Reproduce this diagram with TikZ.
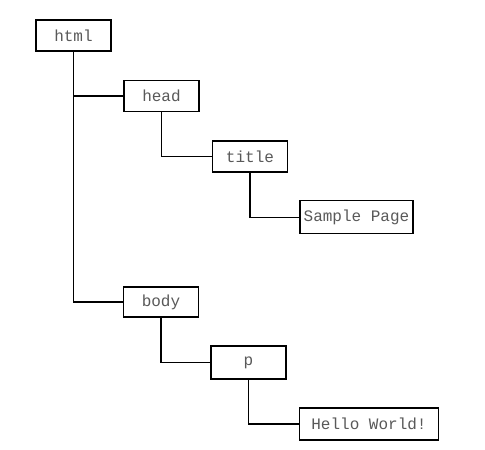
\documentclass[tikz,border=0pt]{standalone}
\usepackage{fontspec}
\setmonofont{Liberation Mono}
\begin{document}
\begin{tikzpicture}[x=1pt,y=-1pt,
  tag/.style={draw=black, line width=1.2pt, fill=white, inner sep=0pt,
    minimum height=31pt, font=\ttfamily\fontsize{16}{18}\selectfont, text=black!65},
  link/.style={draw=black, line width=1.2pt}]
\useasboundingbox (0,0) rectangle (485,450);
\node[tag, minimum width=75pt] (html) at (73.5,35.5) {html};
\node[tag, minimum width=75pt] (head) at (161.5,96) {head};
\node[tag, minimum width=75pt] (title) at (250,156.5) {title};
\node[tag, minimum width=113pt, minimum height=33pt] (sample) at (356.5,217.3) {Sample Page};
\node[tag, minimum width=75pt, minimum height=30pt] (body) at (161,302) {body};
\node[tag, minimum width=75pt, minimum height=33pt] (p) at (248.5,362.5) {p};
\node[tag, minimum width=139pt, minimum height=32pt] (hello) at (369,424) {Hello World!};
\draw[link] (html.south) |- (head.west);
\draw[link] (html.south) |- (body.west);
\draw[link] (head.south) |- (title.west);
\draw[link] (title.south) |- (sample.west);
\draw[link] (body.south) |- (p.west);
\draw[link] (p.south) |- (hello.west);
\end{tikzpicture}
\end{document}
